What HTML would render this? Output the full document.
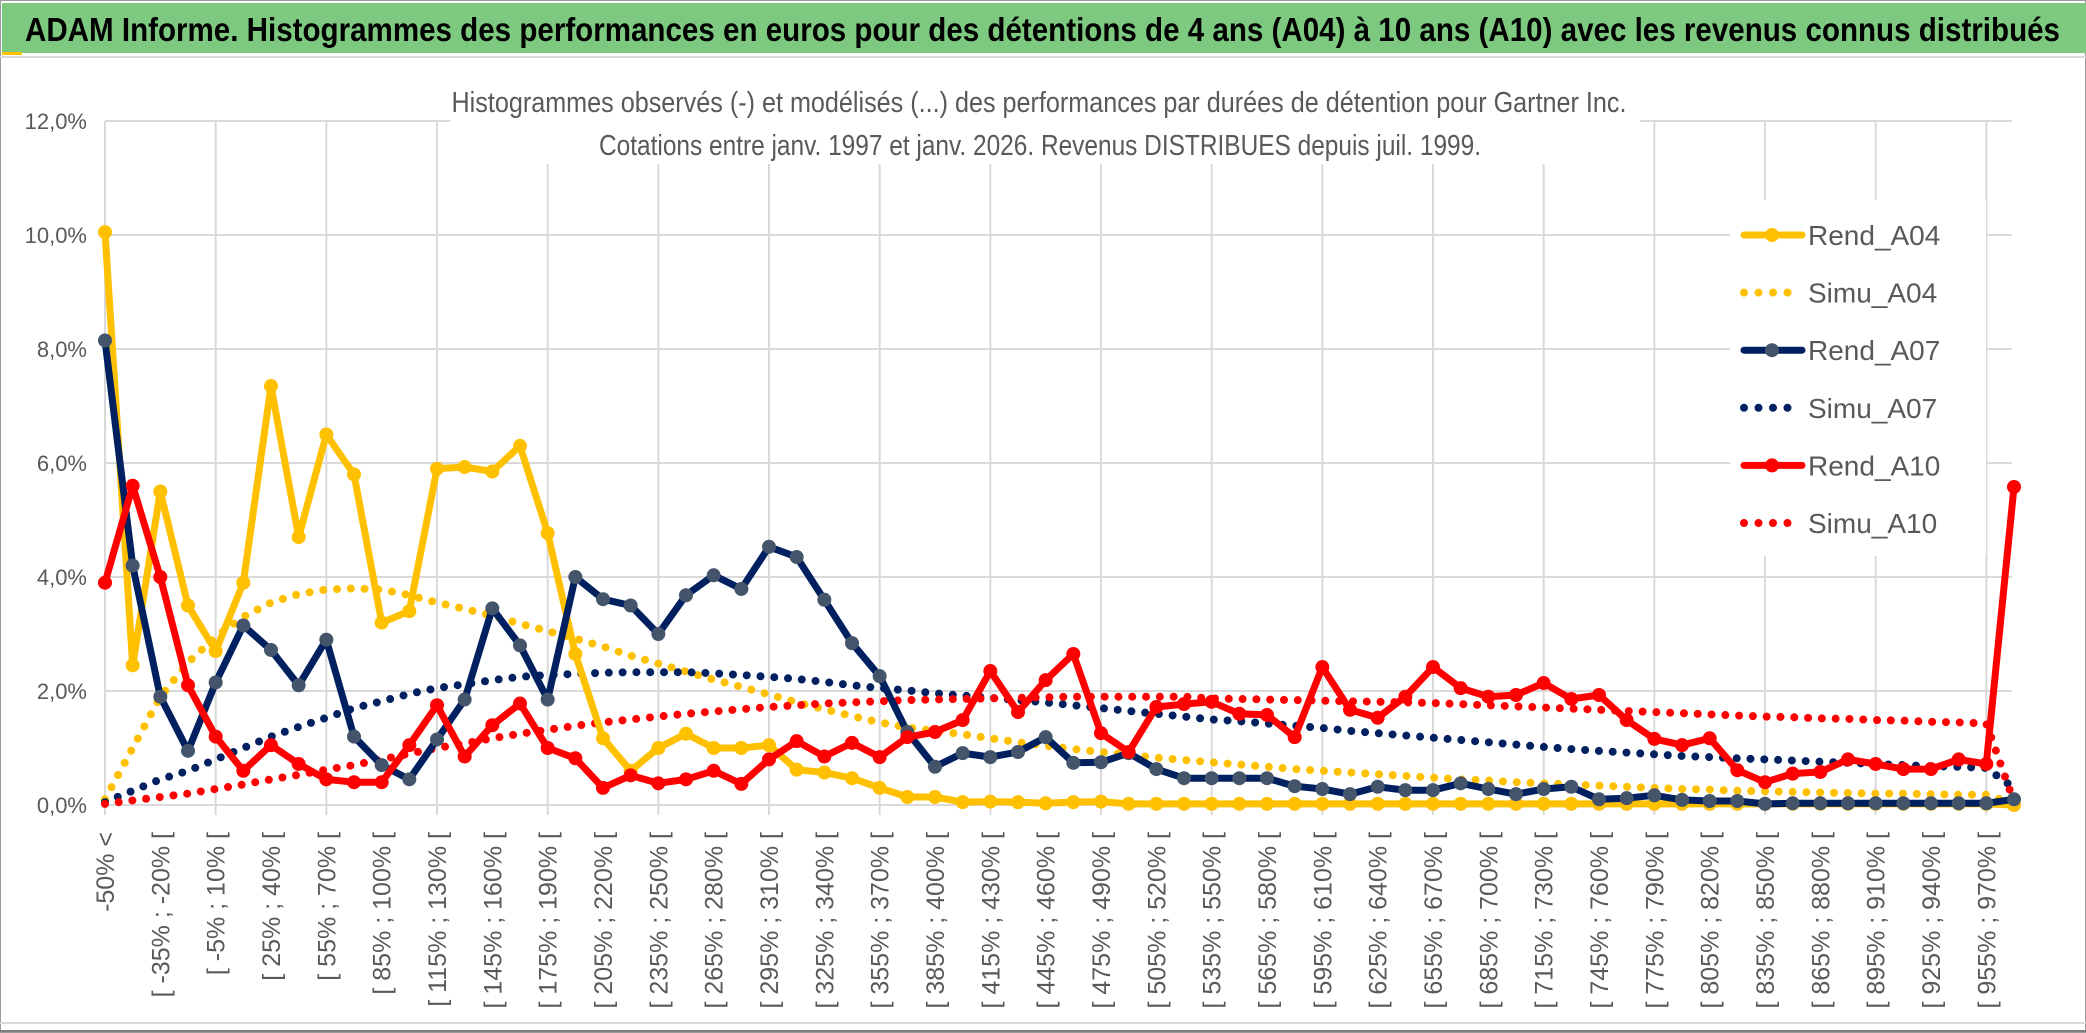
<!DOCTYPE html>
<html><head><meta charset="utf-8"><style>
html,body{margin:0;padding:0;background:#fff;}
svg{display:block;font-family:"Liberation Sans",sans-serif;}
</style></head><body>
<svg id="chart" width="2086" height="1033" viewBox="0 0 2086 1033" xmlns="http://www.w3.org/2000/svg">
<rect x="0" y="0" width="2086" height="1033" fill="#fff"/>
<rect x="0.5" y="0.5" width="2085" height="1032" fill="none" stroke="#9a9a9a" stroke-width="1"/>
<rect x="2" y="3" width="2084" height="50" fill="#7dc97f"/>
<rect x="2" y="52" width="20" height="3" fill="#ffc000"/>
<line x1="0" y1="57" x2="2086" y2="57" stroke="#d9d9d9" stroke-width="2"/>
<text x="25" y="41" font-size="33" font-weight="bold" fill="#000" textLength="2035" lengthAdjust="spacingAndGlyphs">ADAM Informe. Histogrammes des performances en euros pour des détentions de 4 ans (A04) à 10 ans (A10) avec les revenus connus distribués</text>
<g id="grid"></g>
<rect x="450" y="62" width="1190" height="102" fill="#fff"/>
<text x="1039" y="112" font-size="29" fill="#595959" text-anchor="middle" textLength="1175" lengthAdjust="spacingAndGlyphs">Histogrammes observés (-) et modélisés (...) des performances par durées de détention pour Gartner Inc.</text>
<text x="1040" y="155" font-size="29" fill="#595959" text-anchor="middle" textLength="882" lengthAdjust="spacingAndGlyphs">Cotations entre janv. 1997 et janv. 2026. Revenus DISTRIBUES depuis juil. 1999.</text>
<g id="ylabels"></g>
<g id="xlabels"></g>
<g id="series"></g>
<g id="legend"></g>
<line x1="0" y1="1023" x2="2086" y2="1023" stroke="#d9d9d9" stroke-width="2"/>
<line x1="0" y1="1031" x2="2086" y2="1031" stroke="#7f7f7f" stroke-width="2"/>
</svg>
<script>
const categoryCount = 70;
const yTicks = [0,2,4,6,8,10,12];
const yTickLabels = ["0,0%","2,0%","4,0%","6,0%","8,0%","10,0%","12,0%"];
const binStart = -50;
const binStep = 15;
const rendA04 = [10.05,2.45,5.5,3.5,2.7,3.9,7.35,4.7,6.5,5.8,
 3.2,3.4,5.9,5.93,5.85,6.3,4.77,2.65,1.17,0.6,
 1.0,1.25,1.0,1.0,1.05,0.62,0.57,0.47,0.3,0.14,
 0.14,0.05,0.06,0.05,0.03,0.05,0.06,0.02,0.02,0.02,
 0.02,0.02,0.02,0.02,0.02,0.02,0.02,0.02,0.02,0.02,
 0.02,0.02,0.02,0.02,0.02,0.02,0.02,0.02,0.02,0.02,
 0.02,0.02,0.02,0.02,0.02,0.02,0.02,0.02,0.02,0.0];
const simuA04 = [0.1,1.0,1.9,2.5,2.95,3.3,3.55,3.7,3.78,3.8,
 3.78,3.68,3.55,3.44,3.32,3.18,3.05,2.92,2.78,2.62,
 2.48,2.34,2.2,2.07,1.94,1.8,1.68,1.56,1.45,1.36,
 1.3,1.24,1.17,1.1,1.04,0.98,0.93,0.88,0.83,0.79,
 0.75,0.71,0.67,0.63,0.6,0.57,0.54,0.51,0.48,0.45,
 0.43,0.4,0.38,0.36,0.34,0.32,0.3,0.28,0.27,0.25,
 0.24,0.23,0.22,0.21,0.2,0.2,0.19,0.18,0.18,0.02];
const rendA07 = [8.15,4.2,1.9,0.95,2.15,3.15,2.72,2.1,2.9,1.2,
 0.7,0.45,1.15,1.85,3.45,2.8,1.85,4.0,3.61,3.5,
 3.0,3.68,4.03,3.79,4.53,4.35,3.6,2.84,2.26,1.28,
 0.67,0.91,0.84,0.93,1.19,0.74,0.75,0.91,0.63,0.47,
 0.47,0.47,0.47,0.33,0.28,0.19,0.32,0.26,0.26,0.38,
 0.28,0.19,0.28,0.32,0.1,0.12,0.17,0.09,0.07,0.07,
 0.02,0.03,0.03,0.03,0.03,0.03,0.03,0.03,0.03,0.1];
const simuA07 = [0.05,0.25,0.45,0.6,0.8,1.0,1.2,1.37,1.53,1.7,
 1.82,1.95,2.05,2.12,2.19,2.25,2.28,2.3,2.32,2.33,
 2.33,2.33,2.31,2.28,2.25,2.21,2.16,2.1,2.05,2.01,
 1.96,1.92,1.88,1.84,1.8,1.75,1.7,1.65,1.6,1.55,
 1.5,1.47,1.43,1.39,1.35,1.3,1.26,1.22,1.18,1.14,
 1.1,1.06,1.02,0.98,0.95,0.92,0.89,0.86,0.84,0.82,
 0.8,0.78,0.76,0.74,0.72,0.7,0.68,0.67,0.65,0.3];
const rendA10 = [3.9,5.6,4.0,2.1,1.2,0.6,1.05,0.72,0.45,0.4,
 0.4,1.05,1.75,0.85,1.4,1.78,1.0,0.82,0.3,0.52,
 0.38,0.45,0.6,0.37,0.8,1.12,0.85,1.09,0.84,1.19,
 1.28,1.49,2.35,1.63,2.19,2.65,1.26,0.93,1.72,1.77,
 1.81,1.6,1.58,1.19,2.42,1.67,1.53,1.9,2.42,2.05,
 1.9,1.93,2.14,1.86,1.93,1.49,1.16,1.05,1.17,0.61,
 0.4,0.55,0.58,0.8,0.72,0.63,0.63,0.8,0.72,5.58];
const simuA10 = [0.02,0.08,0.14,0.2,0.28,0.36,0.45,0.53,0.62,0.7,
 0.8,0.9,1.0,1.08,1.17,1.25,1.32,1.39,1.45,1.5,
 1.55,1.6,1.64,1.68,1.72,1.75,1.78,1.8,1.82,1.84,
 1.85,1.86,1.87,1.88,1.89,1.9,1.9,1.9,1.9,1.9,
 1.87,1.86,1.85,1.84,1.83,1.82,1.81,1.8,1.79,1.77,
 1.75,1.73,1.71,1.69,1.67,1.65,1.63,1.61,1.59,1.57,
 1.55,1.54,1.52,1.51,1.49,1.48,1.46,1.45,1.43,0.05];
const seriesNames = ["Rend_A04","Simu_A04","Rend_A07","Simu_A07","Rend_A10","Simu_A10"];

const NS = "http://www.w3.org/2000/svg";
const X0 = 105, X1 = 2014, Y0 = 805, PXPCT = 57;
function xPos(i){ return X0 + i*(X1-X0)/(categoryCount-1); }
function yPos(v){ return Y0 - v*PXPCT; }
function mk(tag, attrs, parent){ const e=document.createElementNS(NS,tag); for(const k in attrs) e.setAttribute(k,attrs[k]); parent.appendChild(e); return e; }
function catLabel(i){ if(i===0) return "-50% <"; const a=binStart+binStep*(i-1); return "[ "+a+"% ; "+(a+binStep)+"% ["; }

const grid=document.getElementById('grid');
yTicks.forEach((t,k)=>{
  const l=mk('line',{x1:X0,x2:2012,y1:yPos(t),y2:yPos(t),stroke:'#d9d9d9','stroke-width':2},grid);
  
  
});
for(let i=0;i<categoryCount;i+=4){
  const l=mk('line',{x1:xPos(i),x2:xPos(i),y1:yPos(12),y2:Y0+10,stroke:'#d9d9d9','stroke-width':2},grid);
  
  
}
const yl=document.getElementById('ylabels');
yTicks.forEach((t,k)=>{
  const tx=mk('text',{x:87,y:yPos(t)+8,'font-size':22,fill:'#595959','text-anchor':'end'},yl);
  tx.textContent=yTickLabels[k];
  
  
});
const xl=document.getElementById('xlabels');
for(let i=0;i<categoryCount-1;i+=2){
  const x=xPos(i)+9, y=832;
  const tx=mk('text',{x:x,y:y,'font-size':25,fill:'#595959','text-anchor':'end',transform:'rotate(-90 '+x+' '+y+')'},xl);
  tx.textContent=catLabel(i);
  
  
}
const sg=document.getElementById('series');
function pts(arr){ return arr.map((v,i)=>xPos(i).toFixed(1)+','+yPos(v).toFixed(1)).join(' '); }
function dotted(arr,color,name){
  const p=mk('polyline',{points:pts(arr),fill:'none',stroke:color,'stroke-width':8,'stroke-linecap':'round','stroke-dasharray':'0 13.8'},sg);
  
  
}
function solid(arr,color,mcolor,name){
  const p=mk('polyline',{points:pts(arr),fill:'none',stroke:color,'stroke-width':7,'stroke-linejoin':'round'},sg);
  
  
  arr.forEach((v,i)=>{
    const c=mk('circle',{cx:xPos(i),cy:yPos(v),r:7,fill:mcolor},sg);
    
    
  });
}
dotted(simuA04,'#ffc000','simu-a04-line');
dotted(simuA07,'#002060','simu-a07-line');
dotted(simuA10,'#ff0000','simu-a10-line');
solid(rendA04,'#ffc000','#ffc000','rend-a04-line');
solid(rendA07,'#002060','#44546a','rend-a07-line');
solid(rendA10,'#ff0000','#ff0000','rend-a10-line');

const lg=document.getElementById('legend');
const bg=mk('rect',{x:1730,y:200,width:256,height:356,fill:'#fff'},lg);


const legColors=['#ffc000','#ffc000','#002060','#002060','#ff0000','#ff0000'];
const legMarker=['#ffc000',null,'#44546a',null,'#ff0000',null];
seriesNames.forEach((n,k)=>{
  const y=235+k*57.6;
  const g=mk('g',{},lg);
  
  
  if(k%2===0){
    mk('line',{x1:1744,x2:1802,y1:y,y2:y,stroke:legColors[k],'stroke-width':7,'stroke-linecap':'round'},g);
    mk('circle',{cx:1772,cy:y,r:7,fill:legMarker[k]},g);
  } else {
    mk('line',{x1:1744,x2:1792,y1:y,y2:y,stroke:legColors[k],'stroke-width':8,'stroke-linecap':'round','stroke-dasharray':'0 14.5'},g);
  }
  const t=mk('text',{x:1808,y:y+10,'font-size':28,fill:'#595959'},g);
  t.textContent=n;
});
</script>
</body></html>
